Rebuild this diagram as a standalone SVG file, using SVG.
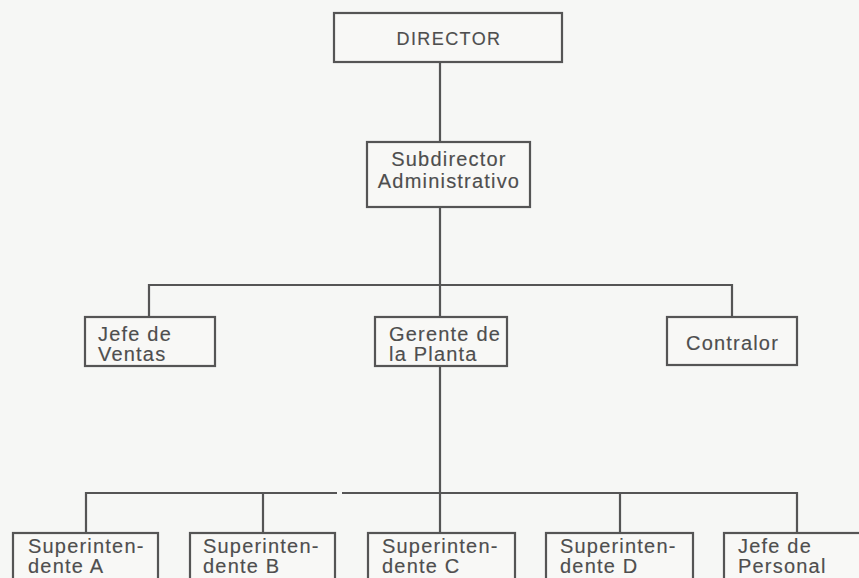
<svg xmlns="http://www.w3.org/2000/svg" width="859" height="578" viewBox="0 0 859 578">
  <style>
    .box { fill: #f8f8f6; stroke: #555; stroke-width: 2.2; }
    .wire { fill: none; stroke: #555; stroke-width: 2.2; }
    text { font-family: "Liberation Sans", Arial, sans-serif; font-size: 20px; letter-spacing: 1.2px; fill: #4e4e4e; stroke: #4e4e4e; stroke-width: 0.15px; }
    .mid { text-anchor: middle; }
  </style>
  <rect x="0" y="0" width="859" height="578" fill="#f6f7f5"/>

  <g id="connectors">
    <line class="wire" x1="440" y1="62" x2="440" y2="142"/>
    <line class="wire" x1="440" y1="207" x2="440" y2="317"/>
    <polyline class="wire" points="149,317 149,285 732,285 732,317"/>
    <line class="wire" x1="440" y1="366" x2="440" y2="533"/>
    <polyline class="wire" points="86,533 86,493 337,493"/>
    <polyline class="wire" points="342,493 797,493 797,533"/>
    <line class="wire" x1="263" y1="493" x2="263" y2="533"/>
    <line class="wire" x1="620" y1="493" x2="620" y2="533"/>
  </g>

  <g id="director">
    <rect class="box" x="334" y="13" width="228" height="49"/>
    <text class="mid" x="449" y="45" style="font-size:18px;letter-spacing:1.4px">DIRECTOR</text>
  </g>

  <g id="subdirector">
    <rect class="box" x="367" y="142" width="163" height="65"/>
    <text class="mid" x="449" y="166">Subdirector</text>
    <text class="mid" x="449" y="188">Administrativo</text>
  </g>

  <g id="jefe-ventas">
    <rect class="box" x="85" y="317" width="130" height="49"/>
    <text x="98" y="341">Jefe de</text>
    <text x="98" y="361">Ventas</text>
  </g>

  <g id="gerente-planta">
    <rect class="box" x="375" y="317" width="132" height="49"/>
    <text x="389" y="341">Gerente de</text>
    <text x="389" y="361">la Planta</text>
  </g>

  <g id="contralor">
    <rect class="box" x="667" y="317" width="130" height="48"/>
    <text x="686" y="350">Contralor</text>
  </g>

  <g id="superintendente-a">
    <rect class="box" x="13" y="533" width="145" height="60"/>
    <text x="28" y="553">Superinten-</text>
    <text x="28" y="573">dente A</text>
  </g>

  <g id="superintendente-b">
    <rect class="box" x="190" y="533" width="145" height="60"/>
    <text x="203" y="553">Superinten-</text>
    <text x="203" y="573">dente B</text>
  </g>

  <g id="superintendente-c">
    <rect class="box" x="368" y="533" width="147" height="60"/>
    <text x="382" y="553">Superinten-</text>
    <text x="382" y="573">dente C</text>
  </g>

  <g id="superintendente-d">
    <rect class="box" x="546" y="533" width="147" height="60"/>
    <text x="560" y="553">Superinten-</text>
    <text x="560" y="573">dente D</text>
  </g>

  <g id="jefe-personal">
    <rect class="box" x="724" y="533" width="150" height="60"/>
    <text x="738" y="553">Jefe de</text>
    <text x="738" y="573">Personal</text>
  </g>
</svg>
